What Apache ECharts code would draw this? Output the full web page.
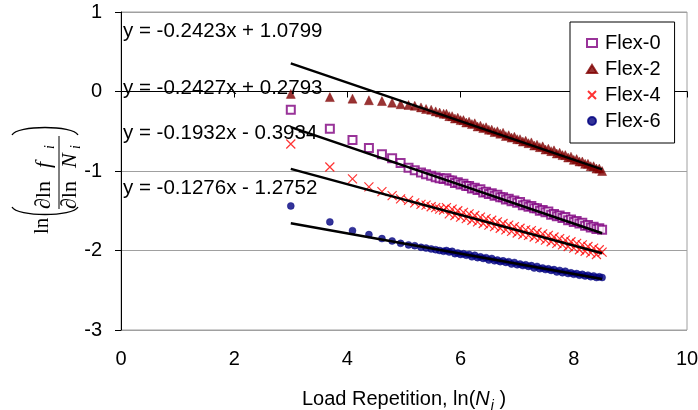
<!DOCTYPE html>
<html><head><meta charset="utf-8">
<script src="https://cdn.jsdelivr.net/npm/echarts@6/dist/echarts.min.js"></script>
<style>html,body{margin:0;padding:0;background:#fff}#c{width:698px;height:410px}</style>
</head><body><div id="c"></div>
<script>
// ln(N_i) values (shared by all four series)
const xValues = [3.00,3.69,4.09,4.38,4.61,4.79,4.94,5.08,5.19,5.30,5.39,5.48,5.56,5.63,5.70,
5.75,5.80,5.85,5.90,5.95,6.00,6.05,6.10,6.15,6.20,6.25,6.30,6.35,6.40,6.45,6.50,6.55,6.60,6.65,6.70,
6.75,6.80,6.85,6.90,6.95,7.00,7.05,7.10,7.15,7.20,7.25,7.30,7.35,7.40,7.45,7.50,7.55,7.60,7.65,7.70,
7.75,7.80,7.85,7.90,7.95,8.00,8.05,8.10,8.15,8.20,8.25,8.30,8.35,8.40,8.45,8.50];

const flex0 = [-0.23,-0.47,-0.61,-0.71,-0.79,-0.84,-0.90,-0.96,-0.99,-1.02,-1.04,-1.06,-1.08,-1.09,-1.10,
-1.09,-1.12,-1.12,-1.15,-1.14,-1.17,-1.16,-1.19,-1.19,-1.22,
-1.21,-1.24,-1.23,-1.27,-1.26,-1.29,-1.28,-1.31,-1.30,-1.33,
-1.33,-1.36,-1.35,-1.38,-1.37,-1.40,-1.39,-1.43,-1.42,-1.45,
-1.44,-1.47,-1.47,-1.50,-1.49,-1.52,-1.51,-1.55,-1.54,-1.57,
-1.56,-1.59,-1.58,-1.62,-1.61,-1.64,-1.63,-1.66,-1.65,-1.69,
-1.68,-1.71,-1.70,-1.73,-1.72,-1.74];

const flex2 = [-0.03,-0.07,-0.09,-0.11,-0.12,-0.14,-0.16,-0.17,-0.18,-0.20,-0.22,-0.23,-0.25,-0.265,-0.28,
-0.28,-0.31,-0.31,-0.34,-0.33,-0.36,-0.36,-0.39,-0.38,-0.41,
-0.40,-0.44,-0.43,-0.46,-0.45,-0.48,-0.48,-0.51,-0.50,-0.53,
-0.52,-0.56,-0.55,-0.58,-0.57,-0.60,-0.60,-0.63,-0.62,-0.65,
-0.64,-0.68,-0.67,-0.70,-0.69,-0.73,-0.72,-0.75,-0.74,-0.78,
-0.77,-0.80,-0.80,-0.83,-0.82,-0.86,-0.85,-0.88,-0.88,-0.91,
-0.91,-0.94,-0.94,-0.97,-0.97,-1.00];

const flex4 = [-0.66,-0.95,-1.10,-1.20,-1.26,-1.31,-1.35,-1.37,-1.40,-1.42,-1.43,-1.45,-1.46,-1.48,-1.49,
-1.46,-1.54,-1.48,-1.56,-1.50,-1.58,-1.52,-1.60,-1.54,-1.62,
-1.56,-1.64,-1.58,-1.66,-1.60,-1.68,-1.62,-1.70,-1.64,-1.72,
-1.66,-1.74,-1.68,-1.76,-1.70,-1.78,-1.72,-1.80,-1.74,-1.81,
-1.75,-1.83,-1.77,-1.85,-1.79,-1.87,-1.81,-1.89,-1.83,-1.91,
-1.85,-1.93,-1.87,-1.95,-1.89,-1.97,-1.91,-1.99,-1.93,-2.01,
-1.95,-2.03,-1.97,-2.05,-1.99,-2.02];

const flex6 = [-1.44,-1.64,-1.75,-1.80,-1.85,-1.88,-1.91,-1.93,-1.94,-1.96,-1.97,-1.98,-1.99,-2.00,-2.01,
-2.00,-2.02,-2.01,-2.04,-2.03,-2.05,-2.04,-2.06,-2.05,-2.08,
-2.06,-2.09,-2.08,-2.10,-2.09,-2.12,-2.10,-2.13,-2.12,-2.14,
-2.13,-2.15,-2.14,-2.17,-2.15,-2.18,-2.17,-2.19,-2.18,-2.20,
-2.19,-2.22,-2.20,-2.23,-2.22,-2.24,-2.23,-2.25,-2.24,-2.27,
-2.25,-2.28,-2.26,-2.29,-2.28,-2.30,-2.29,-2.31,-2.30,-2.32,
-2.31,-2.33,-2.32,-2.34,-2.33,-2.34];

const seriesNames = ['Flex-0','Flex-2','Flex-4','Flex-6'];
const seriesValues = [flex0, flex2, flex4, flex6];
// Linear trendlines shown on the chart (y = a x + b)
const trendSlopes = [-0.2427, -0.2423, -0.1932, -0.1276];
const trendIntercepts = [0.2793, 1.0799, -0.3934, -1.2752];
const xAxisRange = [0, 10, 2];
const yAxisRange = [-3, 1, 1];

const SANS = '"Liberation Sans", Arial, sans-serif';
const SERIF = '"Liberation Serif", "Times New Roman", serif';
const colors = ['#800080', '#800000', '#ff0000', '#000080'];
const symbols = ['emptyRect', 'triangle', 'path://M0,0L10,10M10,0L0,10', 'circle'];
const symbolSizes = [8, 9, 9, 7];

function eqText(i) {
  const b = trendIntercepts[i];
  return 'y = ' + trendSlopes[i].toFixed(4) + 'x ' + (b < 0 ? '- ' : '+ ') + Math.abs(b).toFixed(4);
}

const series = [];
seriesNames.forEach((name, k) => {
  const isX = k === 2;
  series.push({
    name: name, type: 'scatter', z: 2,
    symbol: symbols[k], symbolSize: symbolSizes[k],
    itemStyle: isX ? {color: colors[k], borderColor: colors[k], borderWidth: 1.2}
                   : (k === 0 ? {color: colors[k], borderColor: colors[k], borderWidth: 1.3} : {color: colors[k], borderColor: colors[k], borderWidth: 0.5}),
    emphasis: {disabled: true},
    data: xValues.map((x, i) => [x, seriesValues[k][i]])
  });
});
seriesNames.forEach((name, k) => {
  const x0 = xValues[0], x1 = xValues[xValues.length - 1];
  series.push({
    name: name + ' trend', type: 'line', z: 5, symbol: 'none', silent: true,
    lineStyle: {color: '#000', width: 2.5},
    data: [[x0, trendSlopes[k] * x0 + trendIntercepts[k]], [x1, trendSlopes[k] * x1 + trendIntercepts[k]]]
  });
});

const eqOrder = [1, 0, 2, 3];
const eqY = [32, 89, 134, 189];
const graphics = eqOrder.map((k, j) => ({
  type: 'text', left: 123, top: eqY[j] - 11, z: 10,
  style: {text: eqText(k), font: '20.5px ' + SANS, fill: '#000'}
}));

// y-axis title:  ln( ∂ln f_i / ∂ln N_i ), rotated
function t(txt, x, y, font) {
  return {type: 'text', x: x, y: y, style: {text: txt, font: font, fill: '#000', align: 'left', verticalAlign: 'middle', textAlign: 'left', textVerticalAlign: 'middle'}};
}
graphics.push({
  type: 'group', x: 45, y: 179, rotation: Math.PI / 2,
  children: [
    t('ln', -55, -3, '21px ' + SERIF),
    {type: 'bezierCurve', shape: {x1: -28, y1: -33, cpx1: -38, cpy1: -28, cpx2: -38, cpy2: 28, x2: -28, y2: 33}, style: {stroke: '#000', lineWidth: 1.3, fill: null}},
    t('\u2202ln', -30, -1, '22px ' + SERIF),
    t('f', 11, -1, 'italic 22px ' + SERIF),
    t('i', 30, 5, 'italic 14px ' + SERIF),
    {type: 'line', shape: {x1: -30, y1: 14, x2: 43, y2: 14}, style: {stroke: '#000', lineWidth: 1}},
    t('\u2202ln', -30, 25, '22px ' + SERIF),
    t('N', 11, 25, 'italic 22px ' + SERIF),
    t('i', 30, 31, 'italic 14px ' + SERIF),
    {type: 'bezierCurve', shape: {x1: 44, y1: -33, cpx1: 54, cpy1: -28, cpx2: 54, cpy2: 28, x2: 44, y2: 33}, style: {stroke: '#000', lineWidth: 1.3, fill: null}}
  ]
});

const chart = echarts.init(document.getElementById('c'), null, {renderer: 'canvas'});
chart.setOption({
  animation: false,
  backgroundColor: '#fff',
  grid: {left: 121, right: 11, top: 12, bottom: 80, show: true, borderColor: '#a0a0a0', borderWidth: 1, outerBoundsMode: 'none', containLabel: false},
  legend: {
    data: seriesNames, orient: 'vertical', left: 570, top: 22,
    padding: [11, 14, 12, 16], itemGap: 6, itemWidth: 10, itemHeight: 8,
    backgroundColor: '#fff', borderColor: '#000', borderWidth: 1,
    textStyle: {fontFamily: SANS, fontSize: 20, color: '#000', padding: [0, 0, 0, 3]}
  },
  xAxis: {
    type: 'value', min: xAxisRange[0], max: xAxisRange[1], interval: xAxisRange[2],
    axisLine: {show: true, lineStyle: {color: '#000', width: 1}},
    axisTick: {show: true, length: 6, lineStyle: {color: '#000'}},
    axisLabel: {fontFamily: SANS, fontSize: 20, color: '#000', margin: 19},
    splitLine: {show: false},
    name: '{t|Load Repetition, ln(}{n|N}{s|i}{t| )}', nameLocation: 'middle', nameGap: 59,
    nameTextStyle: {rich: {
      t: {fontFamily: SANS, fontSize: 20, color: '#000'},
      n: {fontFamily: SANS, fontSize: 20, fontStyle: 'italic', color: '#000'},
      s: {fontFamily: SANS, fontSize: 14, fontStyle: 'italic', color: '#000', verticalAlign: 'bottom', padding: [0, 0, -4, 1]}
    }}
  },
  yAxis: {
    type: 'value', min: yAxisRange[0], max: yAxisRange[1], interval: yAxisRange[2],
    axisLine: {show: true, lineStyle: {color: '#000', width: 1}},
    axisTick: {show: true, length: 6, lineStyle: {color: '#000'}},
    axisLabel: {fontFamily: SANS, fontSize: 20, color: '#000', margin: 19},
    splitLine: {show: true, lineStyle: {color: '#a0a0a0', width: 1}}
  },
  graphic: graphics,
  series: series
});
</script></body></html>
